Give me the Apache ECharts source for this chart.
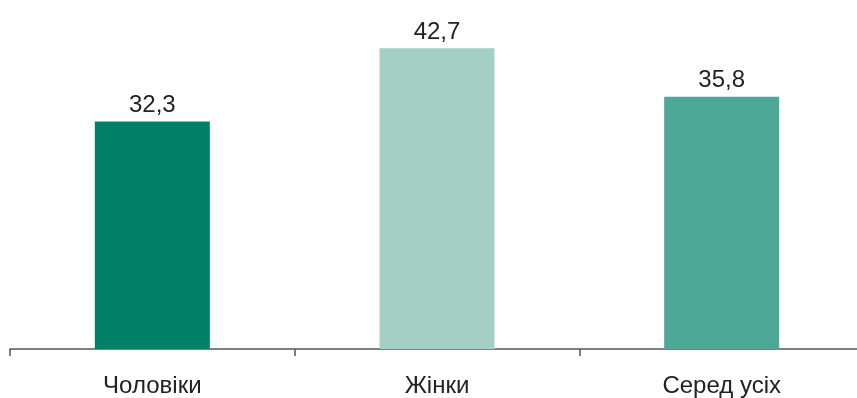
<!DOCTYPE html>
<html>
<head>
<meta charset="utf-8">
<script src="https://cdn.jsdelivr.net/npm/echarts@6/dist/echarts.min.js"></script>
<style>
  html, body { margin: 0; padding: 0; background: #ffffff; overflow: hidden; }
  /* the axis runs slightly past the right edge of the window */
  #chart { width: 864px; height: 398px; }
</style>
</head>
<body>
<div id="chart"></div>
<script>
// Share by sex (%)
const categories = ['Чоловіки', 'Жінки', 'Серед усіх'];
const values = [32.3, 42.7, 35.8];
const barColors = ['#008066', '#a3cfc4', '#4fa897'];

const chart = echarts.init(document.getElementById('chart'), null, { renderer: 'canvas' });

chart.setOption({
  animation: false,
  backgroundColor: '#ffffff',
  grid: { left: 10, right: 0, top: 32, bottom: 48, containLabel: false },
  xAxis: {
    type: 'category',
    data: categories,
    boundaryGap: true,
    axisLine: { show: true, lineStyle: { color: '#555555', width: 1.5 } },
    axisTick: { show: true, length: 7, lineStyle: { color: '#555555', width: 1.5 } },
    axisLabel: {
      color: '#222222',
      fontFamily: 'Liberation Sans, Arial, sans-serif',
      fontSize: 24,
      margin: 25
    }
  },
  yAxis: {
    type: 'value',
    min: 0,
    max: 45,
    show: false,
    splitLine: { show: false }
  },
  series: [{
    type: 'bar',
    barWidth: 115,
    data: values.map((v, i) => ({ value: v, itemStyle: { color: barColors[i] } })),
    label: {
      show: true,
      position: 'top',
      distance: 4,
      color: '#222222',
      fontFamily: 'Liberation Sans, Arial, sans-serif',
      fontSize: 24,
      formatter: p => p.value.toFixed(1).replace('.', ',')
    }
  }]
});
</script>
</body>
</html>
